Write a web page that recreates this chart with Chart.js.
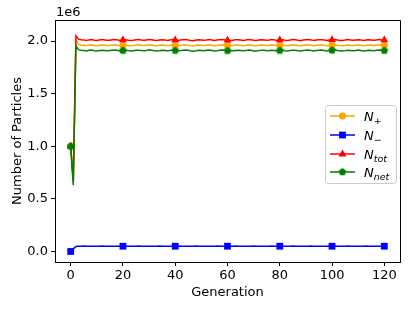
<!DOCTYPE html>
<html>
<head>
<meta charset="utf-8">
<script src="https://cdn.jsdelivr.net/npm/chart.js@4/dist/chart.umd.min.js"></script>
<style>
  html, body { margin: 0; padding: 0; background: #fff; }
  #wrap { width: 415px; height: 311px; }
</style>
</head>
<body>
<div id="wrap"><canvas id="chart" width="415" height="311"></canvas></div>
<script>
// Data (particle counts in units of 1e6)
const generations = [
  0, 1, 2, 3, 4, 5, 6, 7, 8, 9,
  10, 11, 12, 13, 14, 15, 16, 17, 18, 19,
  20, 21, 22, 23, 24, 25, 26, 27, 28, 29,
  30, 31, 32, 33, 34, 35, 36, 37, 38, 39,
  40, 41, 42, 43, 44, 45, 46, 47, 48, 49,
  50, 51, 52, 53, 54, 55, 56, 57, 58, 59,
  60, 61, 62, 63, 64, 65, 66, 67, 68, 69,
  70, 71, 72, 73, 74, 75, 76, 77, 78, 79,
  80, 81, 82, 83, 84, 85, 86, 87, 88, 89,
  90, 91, 92, 93, 94, 95, 96, 97, 98, 99,
  100, 101, 102, 103, 104, 105, 106, 107, 108, 109,
  110, 111, 112, 113, 114, 115, 116, 117, 118, 119,
  120
];

const nPlus = [
  1.000, 0.655, 2.002, 1.968, 1.962, 1.960, 1.956, 1.962, 1.964, 1.958,
  1.955, 1.960, 1.964, 1.961, 1.957, 1.959, 1.963, 1.965, 1.960, 1.956,
  1.960, 1.963, 1.958, 1.955, 1.958, 1.962, 1.964, 1.960, 1.957, 1.961,
  1.965, 1.962, 1.957, 1.955, 1.959, 1.963, 1.961, 1.957, 1.960, 1.964,
  1.960, 1.956, 1.959, 1.963, 1.965, 1.961, 1.956, 1.954, 1.959, 1.963,
  1.960, 1.957, 1.961, 1.964, 1.960, 1.956, 1.958, 1.962, 1.965, 1.962,
  1.958, 1.955, 1.958, 1.962, 1.963, 1.960, 1.956, 1.959, 1.964, 1.962,
  1.957, 1.955, 1.959, 1.963, 1.961, 1.957, 1.960, 1.964, 1.961, 1.956,
  1.960, 1.963, 1.958, 1.956, 1.960, 1.964, 1.962, 1.957, 1.955, 1.959,
  1.963, 1.965, 1.960, 1.956, 1.959, 1.962, 1.964, 1.960, 1.956, 1.958,
  1.962, 1.964, 1.960, 1.957, 1.955, 1.959, 1.963, 1.961, 1.957, 1.960,
  1.964, 1.961, 1.956, 1.959, 1.963, 1.960, 1.957, 1.962, 1.964, 1.960,
  1.959
];

const nMinus = [
  0.000, 0.025, 0.048, 0.050, 0.050, 0.051, 0.050, 0.049, 0.050, 0.050,
  0.050, 0.050, 0.051, 0.050, 0.050, 0.049, 0.050, 0.050, 0.050, 0.051,
  0.050, 0.050, 0.049, 0.050, 0.050, 0.050, 0.051, 0.050, 0.050, 0.050,
  0.049, 0.050, 0.050, 0.050, 0.051, 0.050, 0.050, 0.049, 0.050, 0.050,
  0.050, 0.051, 0.050, 0.050, 0.050, 0.049, 0.050, 0.050, 0.051, 0.050,
  0.050, 0.050, 0.049, 0.050, 0.050, 0.050, 0.051, 0.050, 0.050, 0.049,
  0.050, 0.050, 0.050, 0.051, 0.050, 0.050, 0.049, 0.050, 0.050, 0.050,
  0.051, 0.050, 0.050, 0.050, 0.049, 0.050, 0.050, 0.051, 0.050, 0.050,
  0.050, 0.049, 0.050, 0.050, 0.050, 0.051, 0.050, 0.050, 0.049, 0.050,
  0.050, 0.050, 0.051, 0.050, 0.050, 0.050, 0.049, 0.050, 0.050, 0.051,
  0.050, 0.050, 0.050, 0.049, 0.050, 0.050, 0.051, 0.050, 0.050, 0.050,
  0.049, 0.050, 0.050, 0.051, 0.050, 0.050, 0.050, 0.049, 0.050, 0.050,
  0.050
];

const nTot = [
  1.000, 0.680, 2.050, 2.018, 2.012, 2.011, 2.006, 2.011, 2.014, 2.008,
  2.005, 2.010, 2.015, 2.011, 2.007, 2.008, 2.013, 2.015, 2.010, 2.007,
  2.010, 2.013, 2.007, 2.005, 2.008, 2.012, 2.015, 2.010, 2.007, 2.011,
  2.014, 2.012, 2.007, 2.005, 2.010, 2.013, 2.011, 2.006, 2.010, 2.014,
  2.010, 2.007, 2.009, 2.013, 2.015, 2.010, 2.006, 2.004, 2.010, 2.013,
  2.010, 2.007, 2.010, 2.014, 2.010, 2.006, 2.009, 2.012, 2.015, 2.011,
  2.008, 2.005, 2.008, 2.013, 2.013, 2.010, 2.005, 2.009, 2.014, 2.012,
  2.008, 2.005, 2.009, 2.013, 2.010, 2.007, 2.010, 2.015, 2.011, 2.006,
  2.010, 2.012, 2.008, 2.006, 2.010, 2.015, 2.012, 2.007, 2.004, 2.009,
  2.013, 2.015, 2.011, 2.006, 2.009, 2.012, 2.013, 2.010, 2.006, 2.009,
  2.012, 2.014, 2.010, 2.006, 2.005, 2.009, 2.014, 2.011, 2.007, 2.010,
  2.013, 2.011, 2.006, 2.010, 2.013, 2.010, 2.007, 2.011, 2.014, 2.010,
  2.009
];

const nNet = [
  1.000, 0.630, 1.954, 1.918, 1.912, 1.909, 1.906, 1.913, 1.914, 1.908,
  1.905, 1.910, 1.913, 1.911, 1.907, 1.910, 1.913, 1.915, 1.910, 1.905,
  1.910, 1.913, 1.909, 1.905, 1.908, 1.912, 1.913, 1.910, 1.907, 1.911,
  1.916, 1.912, 1.907, 1.905, 1.908, 1.913, 1.911, 1.908, 1.910, 1.914,
  1.910, 1.905, 1.909, 1.913, 1.915, 1.912, 1.906, 1.904, 1.908, 1.913,
  1.910, 1.907, 1.912, 1.914, 1.910, 1.906, 1.907, 1.912, 1.915, 1.913,
  1.908, 1.905, 1.908, 1.911, 1.913, 1.910, 1.907, 1.909, 1.914, 1.912,
  1.906, 1.905, 1.909, 1.913, 1.912, 1.907, 1.910, 1.913, 1.911, 1.906,
  1.910, 1.914, 1.908, 1.906, 1.910, 1.913, 1.912, 1.907, 1.906, 1.909,
  1.913, 1.915, 1.909, 1.906, 1.909, 1.912, 1.915, 1.910, 1.906, 1.907,
  1.912, 1.914, 1.910, 1.908, 1.905, 1.909, 1.912, 1.911, 1.907, 1.910,
  1.915, 1.911, 1.906, 1.908, 1.913, 1.910, 1.907, 1.913, 1.914, 1.910,
  1.909
];

const seriesSubscripts = ['+', '\u2212', 'tot', 'net'];
const xTicks = [0, 20, 40, 60, 80, 100, 120];
const yTicks = [0.0, 0.5, 1.0, 1.5, 2.0];

const FONT = '"DejaVu Sans", sans-serif';

// green pentagon marker as a small canvas
function pentagonMarker(color, r) {
  const c = document.createElement('canvas');
  const s = Math.ceil(r * 2 + 2);
  c.width = s; c.height = s;
  const g = c.getContext('2d');
  g.beginPath();
  for (let i = 0; i < 5; i++) {
    const a = -Math.PI / 2 + i * 2 * Math.PI / 5;
    const px = s / 2 + r * Math.cos(a);
    const py = s / 2 + r * Math.sin(a);
    if (i === 0) g.moveTo(px, py); else g.lineTo(px, py);
  }
  g.closePath();
  g.fillStyle = color;
  g.fill();
  return c;
}
const pentagon = pentagonMarker('#008000', 4);

function toPoints(vals) {
  return vals.map((v, i) => ({ x: generations[i], y: v }));
}

function markEvery(r) {
  return ctx => (ctx.dataIndex % 20 === 0 ? r : 0);
}

const datasets = [
  { label: 'N+', data: toPoints(nPlus), borderColor: '#ffa500', backgroundColor: '#ffa500',
    pointStyle: 'circle', pointRadius: markEvery(3.5), order: 3, sub: 0 },
  { label: 'N-', data: toPoints(nMinus), borderColor: '#0000ff', backgroundColor: '#0000ff',
    pointStyle: 'rect', pointRadius: markEvery(4.8), order: 2, sub: 1 },
  { label: 'Ntot', data: toPoints(nTot), borderColor: '#ff0000', backgroundColor: '#ff0000',
    pointStyle: 'triangle', pointRadius: markEvery(4.5), order: 1, sub: 2 },
  { label: 'Nnet', data: toPoints(nNet), borderColor: '#008000', backgroundColor: '#008000',
    pointStyle: pentagon, pointRadius: markEvery(4), order: 0, sub: 3 }
];
datasets.forEach(d => {
  d.borderWidth = 1.5;
  d.pointBorderWidth = 0;
  d.tension = 0;
});

// Frame, offset text and legend
const extras = {
  id: 'extras',
  afterDraw(chart) {
    const { ctx, chartArea: a } = chart;
    ctx.save();
    ctx.strokeStyle = '#000';
    ctx.lineWidth = 1;
    ctx.beginPath();
    ctx.moveTo(a.left, a.top + 0.5);
    ctx.lineTo(a.right + 0.5, a.top + 0.5);
    ctx.lineTo(a.right + 0.5, a.bottom);
    ctx.stroke();

    // offset text
    ctx.fillStyle = '#000';
    ctx.font = '13px ' + FONT;
    ctx.textBaseline = 'alphabetic';
    ctx.textAlign = 'left';
    ctx.fillText('1e6', a.left + 1, a.top - 4);

    // legend box
    const bx = 325, by = 105, bw = 71, bh = 78;
    ctx.beginPath();
    ctx.roundRect(bx + 0.5, by + 0.5, bw, bh, 3);
    ctx.fillStyle = 'rgba(255,255,255,0.8)';
    ctx.fill();
    ctx.strokeStyle = '#cccccc';
    ctx.stroke();

    const rowY = [116, 135, 154, 172];
    datasets.forEach((d, i) => {
      const y = rowY[i];
      ctx.strokeStyle = d.borderColor;
      ctx.lineWidth = 1.5;
      ctx.beginPath();
      ctx.moveTo(330, y);
      ctx.lineTo(355, y);
      ctx.stroke();
      const mx = 342.5;
      ctx.fillStyle = d.backgroundColor;
      ctx.beginPath();
      if (d.pointStyle === 'circle') {
        ctx.arc(mx, y, 3.5, 0, Math.PI * 2);
        ctx.fill();
      } else if (d.pointStyle === 'rect') {
        ctx.fillRect(mx - 3.4, y - 3.4, 6.8, 6.8);
      } else if (d.pointStyle === 'triangle') {
        ctx.moveTo(mx, y - 4.5);
        ctx.lineTo(mx + 4, y + 2.5);
        ctx.lineTo(mx - 4, y + 2.5);
        ctx.closePath();
        ctx.fill();
      } else {
        ctx.drawImage(pentagon, mx - pentagon.width / 2, y - pentagon.height / 2);
      }
      // label: italic N with subscript
      ctx.fillStyle = '#000';
      ctx.textAlign = 'left';
      ctx.textBaseline = 'alphabetic';
      ctx.font = 'italic 13px ' + FONT;
      ctx.fillText('N', 364, y + 4.5);
      const nw = ctx.measureText('N').width;
      const sub = seriesSubscripts[d.sub];
      ctx.font = (sub === 'tot' || sub === 'net' ? 'italic ' : '') + '9.5px ' + FONT;
      ctx.fillText(sub, 364 + nw, y + 7.5);
    });
    ctx.restore();
  }
};

new Chart(document.getElementById('chart'), {
  type: 'line',
  data: { datasets },
  plugins: [extras],
  options: {
    responsive: false,
    animation: false,
    events: [],
    layout: { padding: { top: 20, right: 15, left: 0, bottom: 0 } },
    plugins: { legend: { display: false }, tooltip: { enabled: false } },
    scales: {
      x: {
        type: 'linear',
        min: -6,
        max: 126,
        afterBuildTicks: s => { s.ticks = xTicks.map(v => ({ value: v })); },
        afterFit: s => { s.height = 49; },
        grid: { drawOnChartArea: false, drawTicks: true, tickLength: 4, color: '#000' },
        border: { display: true, color: '#000', width: 1 },
        ticks: { color: '#000', font: { family: FONT, size: 13 }, padding: 2, maxRotation: 0 },
        title: { display: true, text: 'Generation', color: '#000',
          font: { family: FONT, size: 13 }, padding: { top: 0, bottom: 11 } }
      },
      y: {
        min: -0.1,
        max: 2.2,
        afterBuildTicks: s => { s.ticks = yTicks.map(v => ({ value: v })); },
        afterFit: s => { s.width = 55; },
        grid: { drawOnChartArea: false, drawTicks: true, tickLength: 4, color: '#000' },
        border: { display: true, color: '#000', width: 1 },
        ticks: { color: '#000', font: { family: FONT, size: 13 }, padding: 3,
          callback: v => v.toFixed(1) },
        title: { display: true, text: 'Number of Particles', color: '#000',
          font: { family: FONT, size: 13 }, padding: { top: 10, bottom: 0 } }
      }
    }
  }
});
</script>
</body>
</html>
